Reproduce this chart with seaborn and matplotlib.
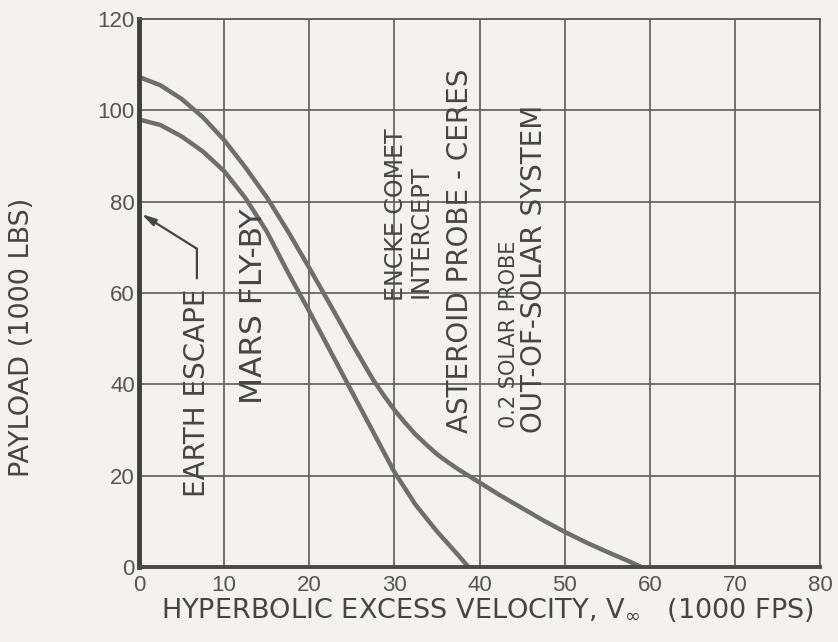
import matplotlib
matplotlib.use("Agg")
import matplotlib.pyplot as plt
import pandas as pd
import seaborn as sns

# ---- data ----
velocity_upper = [0, 2.5, 5, 7.5, 10, 12.5, 15, 17.5, 20, 22.5, 25, 27.5, 28.75, 30, 31.25,
                  32.5, 33.75, 35, 36.25, 37.5, 40, 42.5, 45, 47.5, 50, 52.5, 55, 57.5, 59]
payload_upper = [107.3, 105.5, 102.5, 98.5, 93.5, 87.5, 81, 73.5, 65.5, 57.3, 49, 41, 37.6,
                 34.4, 31.6, 29, 26.8, 24.7, 23, 21.4, 18.5, 15.6, 12.9, 10.2, 7.7, 5.4,
                 3.3, 1.3, 0]

velocity_lower = [0, 2.5, 5, 7.5, 10, 12.5, 15, 17.5, 20, 22.5, 25, 27.5, 30, 32.5,
                  35, 37.5, 38.7]
payload_lower = [98, 96.8, 94.3, 91, 86.7, 80.8, 73.5, 64.5, 56, 47.2, 38.4, 29.6, 20.8, 13.6,
                 7.8, 2.6, 0]

x_ticks = [0, 10, 20, 30, 40, 50, 60, 70, 80]
y_ticks = [0, 20, 40, 60, 80, 100, 120]

mission_labels = ["EARTH ESCAPE", "MARS FLY-BY", "ENCKE COMET", "INTERCEPT",
                  "ASTEROID PROBE - CERES", "0.2 SOLAR PROBE", "OUT-OF-SOLAR SYSTEM"]
label_x = [6.8, 13.5, 30.2, 33.1, 37.7, 43.5, 46.4]
label_y = [15.3, 35.7, 58.2, 58.8, 29.4, 30.4, 29.4]
label_size = [20, 22.5, 17, 17.5, 20, 15, 20]

x_label = "HYPERBOLIC EXCESS VELOCITY, V$_{\\infty}$   (1000 FPS)"
y_label = "PAYLOAD (1000 LBS)"

# earth-escape leader line
leader_tip = (0.3, 77.3)
leader_knee = (6.8, 69.7)
leader_end = (6.8, 63.2)

# ---- styling ----
paper = "#f3f2ee"
ink = "#454545"
grid_c = "#5c5c5c"
curve_c = "#6e6e6e"

sns.set_theme(style="whitegrid")
plt.rcParams["font.family"] = ["DejaVu Sans"]

fig = plt.figure(figsize=(8.38, 6.42), dpi=100, facecolor=paper)
ax = fig.add_axes([139 / 838, 1 - 567 / 642, (820 - 139) / 838, (567 - 19) / 642])
ax.set_facecolor(paper)

df = pd.concat([
    pd.DataFrame({"velocity": velocity_upper, "payload": payload_upper, "curve": "upper"}),
    pd.DataFrame({"velocity": velocity_lower, "payload": payload_lower, "curve": "lower"}),
])
sns.lineplot(data=df, x="velocity", y="payload", hue="curve",
             palette={"upper": curve_c, "lower": curve_c}, linewidth=3.2,
             legend=False, estimator=None, sort=False, ax=ax, zorder=3,
             solid_joinstyle="round", solid_capstyle="round")

ax.set_xlim(0, 80)
ax.set_ylim(0, 120)
ax.set_xticks(x_ticks)
ax.set_yticks(y_ticks)
ax.grid(True, color=grid_c, linewidth=1.2)
for side in ["top", "right"]:
    ax.spines[side].set_color(grid_c)
    ax.spines[side].set_linewidth(1.3)
ax.spines["left"].set_color("#3e3e3e")
ax.spines["left"].set_linewidth(3.5)
ax.spines["bottom"].set_color("#4a4a4a")
ax.spines["bottom"].set_linewidth(2.8)
for s in ax.spines.values():
    s.set_zorder(4)

ax.tick_params(axis="both", length=0, colors="#555555", labelsize=16)
ax.tick_params(axis="x", pad=6)
ax.tick_params(axis="y", pad=3)
for lab in ax.get_xticklabels() + ax.get_yticklabels():
    lab.set_family(["Liberation Sans", "DejaVu Sans"])

ax.set_xlabel("")
ax.set_ylabel("")
fig.text(488 / 838, 1 - 610 / 642, x_label, ha="center", va="center",
         fontsize=19.5, color=ink)
fig.text(22 / 838, 1 - 337 / 642, y_label, ha="center", va="center", rotation=90,
         fontsize=19.5, color=ink)

for txt, lx, ly, fs in zip(mission_labels, label_x, label_y, label_size):
    ax.text(lx, ly, txt, rotation=90, ha="center", va="bottom", fontsize=fs,
            color=ink, zorder=5)

ax.annotate("", xy=leader_knee, xytext=leader_end,
            arrowprops=dict(arrowstyle="-", color=ink, lw=1.6, shrinkA=0, shrinkB=0))
ax.annotate("", xy=leader_tip, xytext=leader_knee,
            arrowprops=dict(arrowstyle="-|>,head_length=0.7,head_width=0.18",
                            color=ink, lw=1.6, shrinkA=0, shrinkB=0))

fig.savefig("out.png", dpi=100, facecolor=paper)
